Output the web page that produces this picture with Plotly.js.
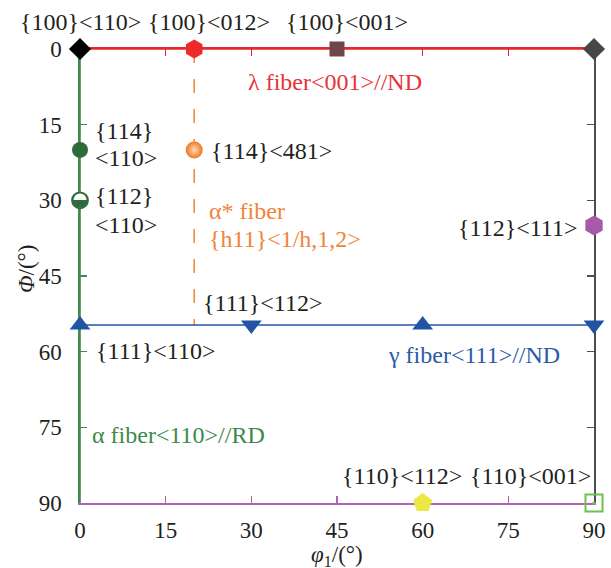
<!DOCTYPE html>
<html>
<head>
<meta charset="utf-8">
<script src="https://cdn.plot.ly/plotly-3.0.1.min.js"></script>
<style>
  html, body { margin: 0; padding: 0; background: #fff; }
  #chart { width: 611px; height: 568px; }
</style>
</head>
<body>
<div id="chart"></div>
<script>
// Euler-angle section (φ2 = 45°): φ1 along x, Φ along y (downwards)
const tickVals = [0, 15, 30, 45, 60, 75, 90];

// Fibre lines
const lambdaPhi1 = [0, 90];   const lambdaPHI = [0, 0];        // λ fibre <001>//ND
const gammaPhi1 = [0, 90];    const gammaPHI = [54.7, 54.7];   // γ fibre <111>//ND
const alphaPhi1 = [0, 0];     const alphaPHI = [0, 90];        // α fibre <110>//RD
const alphaStarPhi1 = [20, 20]; const alphaStarPHI = [0, 54.7]; // α* fibre

// Ideal orientations
const cornerPhi1 = [0, 90];   const cornerPHI = [0, 0];        // {100}<110>
const rotCubePhi1 = [20];     const rotCubePHI = [0];          // {100}<012>
const cubePhi1 = [45];        const cubePHI = [0];             // {100}<001>
const o114_110Phi1 = [0];     const o114_110PHI = [20];        // {114}<110>
const o114_481Phi1 = [20];    const o114_481PHI = [20];        // {114}<481>
const o112_110Phi1 = [0];     const o112_110PHI = [30];        // {112}<110>
const o112_111Phi1 = [90];    const o112_111PHI = [35];        // {112}<111>
const gUpPhi1 = [0, 60];      const gUpPHI = [54.7, 54.7];     // {111}<110>
const gDownPhi1 = [30, 90];   const gDownPHI = [54.7, 54.7];   // {111}<112>
const brassPhi1 = [60];       const brassPHI = [90];           // {110}<112>
const gossPhi1 = [90];        const gossPHI = [90];            // {110}<001>

const RED = '#e8262b', GREEN = '#3f8a4c', BLUE = '#2356a6', PURPLE = '#b262b5',
      GREY = '#4d4d4d', ORANGE = '#f08a3c', INK = '#231f20';
const FONT = 'Liberation Serif';
const LABEL_SIZE = 24;

function line(x, y, color, dash) {
  return { x, y, mode: 'lines', type: 'scatter', hoverinfo: 'skip', showlegend: false,
           line: { color, width: 1.6, dash: dash || 'solid' }, cliponaxis: false };
}
function pts(x, y, marker) {
  return { x, y, mode: 'markers', type: 'scatter', hoverinfo: 'skip', showlegend: false,
           marker, cliponaxis: false };
}

const data = [
  line(alphaStarPhi1, alphaStarPHI, ORANGE, '14px,16px'),
  line(lambdaPhi1, lambdaPHI, RED),
  line(alphaPhi1, alphaPHI, GREEN),
  line(gammaPhi1, gammaPHI, BLUE),
  pts(cornerPhi1, cornerPHI, { symbol: 'diamond', size: 17, color: ['#000000', '#474747'] }),
  pts(rotCubePhi1, rotCubePHI, { symbol: 'hexagon', size: 19, color: '#ec2a2a' }),
  pts(cubePhi1, cubePHI, { symbol: 'square', size: 15, color: '#6e474c' }),
  pts(o114_110Phi1, o114_110PHI, { symbol: 'circle', size: 16, color: '#2f6b3a' }),
  pts(o114_481Phi1, o114_481PHI, { symbol: 'circle', size: 17, color: '#ef7623',
       gradient: { type: 'radial', color: '#ffd9b8' } }),
  // half-filled disc: white top, green bottom
  pts(o112_110Phi1, o112_110PHI, { symbol: 'circle', size: 16, color: '#ffffff',
       line: { width: 1.8, color: '#2f6b3a' } }),
  { x: o112_110Phi1, y: o112_110PHI, mode: 'text', type: 'scatter', text: ['◒'],
    textposition: 'middle center', hoverinfo: 'skip', showlegend: false, cliponaxis: false,
    textfont: { family: 'DejaVu Sans', size: 20, color: '#2f6b3a' } },
  pts(o112_111Phi1, o112_111PHI, { symbol: 'hexagon', size: 20, color: '#a65aa9' }),
  pts(gUpPhi1, gUpPHI, { symbol: 'triangle-up', size: 18, color: '#2154a5' }),
  pts(gDownPhi1, gDownPHI, { symbol: 'triangle-down', size: 18, color: '#2154a5' }),
  pts(brassPhi1, brassPHI, { symbol: 'pentagon', size: 20, color: '#ece846' }),
  pts(gossPhi1, gossPHI, { symbol: 'square-open-dot', size: 17, color: '#6cc24a',
       line: { width: 2, color: '#6cc24a' } }),
  // carries the top and right frame axes
  { x: [], y: [], xaxis: 'x2', yaxis: 'y2', type: 'scatter', mode: 'markers',
    showlegend: false, hoverinfo: 'skip' }
];

function ann(text, x, y, xanchor, color, yshift) {
  return { text, x, y, xref: 'x', yref: 'y', xanchor: xanchor || 'left', yanchor: 'middle',
           yshift: yshift || 0, showarrow: false,
           font: { family: FONT, size: LABEL_SIZE, color: color || INK } };
}

const annotations = [
  ann('{100}&lt;110&gt;', 0, 0, 'center', INK, 27),
  ann('{100}&lt;012&gt;', 22.5, 0, 'center', INK, 27),
  ann('{100}&lt;001&gt;', 46.8, 0, 'center', INK, 27),
  ann('λ fiber&lt;001&gt;//ND', 44.6, 6.5, 'center', '#e8323a'),
  ann('{114}', 2.3, 16.2),
  ann('&lt;110&gt;', 2.3, 21.6),
  ann('{114}&lt;481&gt;', 22.6, 20.3),
  ann('{112}', 2.3, 29.1),
  ann('&lt;110&gt;', 2.3, 34.9),
  ann('α* fiber', 22.2, 32.1, 'left', '#f0843a'),
  ann('{h11}&lt;1/h,1,2&gt;', 22.2, 37.6, 'left', '#f0843a'),
  ann('{112}&lt;111&gt;', 87.4, 35.5, 'right'),
  ann('{111}&lt;112&gt;', 21.1, 50.4),
  ann('{111}&lt;110&gt;', 2.5, 59.8),
  ann('γ fiber&lt;111&gt;//ND', 53.5, 60.6, 'left', '#2c5aa8'),
  ann('α fiber&lt;110&gt;//RD', 1.8, 76.6, 'left', '#3b8a4a'),
  ann('{110}&lt;112&gt;', 45.6, 84.6),
  ann('{110}&lt;001&gt;', 68.0, 84.6),
  // axis titles
  { text: '<i>φ</i><sub>1</sub>/(°)', xref: 'paper', yref: 'paper', x: 0.5, y: 0,
    xanchor: 'center', yanchor: 'middle', yshift: -53, borderpad: 0, showarrow: false,
    font: { family: FONT, size: 23, color: INK } },
  { text: '<i>Φ</i>/(°)', xref: 'paper', yref: 'paper', x: 0, y: 0.5, textangle: -90,
    xanchor: 'center', yanchor: 'middle', xshift: -54, yshift: 7, showarrow: false,
    font: { family: FONT, size: 23, color: INK } }
];

const baseAxis = {
  range: [0, 90], tickvals: tickVals, ticks: 'inside', ticklen: 7, tickwidth: 1.4,
  showgrid: false, zeroline: false, showline: true, linewidth: 1.6,
  layer: 'below traces', fixedrange: true,
  tickfont: { family: FONT, size: 23, color: INK }
};

const layout = {
  width: 611, height: 568,
  margin: { l: 80, r: 17, t: 49, b: 65 },
  paper_bgcolor: '#ffffff', plot_bgcolor: '#ffffff',
  font: { family: FONT, color: INK },
  xaxis: Object.assign({}, baseAxis, {
    linecolor: PURPLE, tickcolor: PURPLE, ticklabelstandoff: 6
  }),
  yaxis: Object.assign({}, baseAxis, {
    range: [90, 0], linecolor: GREEN, tickcolor: GREEN, ticklabelstandoff: 12
  }),
  xaxis2: Object.assign({}, baseAxis, {
    overlaying: 'x', side: 'top', anchor: 'y2', linecolor: RED, tickcolor: RED,
    showticklabels: false
  }),
  yaxis2: Object.assign({}, baseAxis, {
    overlaying: 'y', side: 'right', anchor: 'x2', range: [90, 0],
    linecolor: GREY, tickcolor: GREY, showticklabels: false
  }),
  annotations
};

Plotly.newPlot('chart', data, layout, { staticPlot: true, displayModeBar: false });
</script>
</body>
</html>
